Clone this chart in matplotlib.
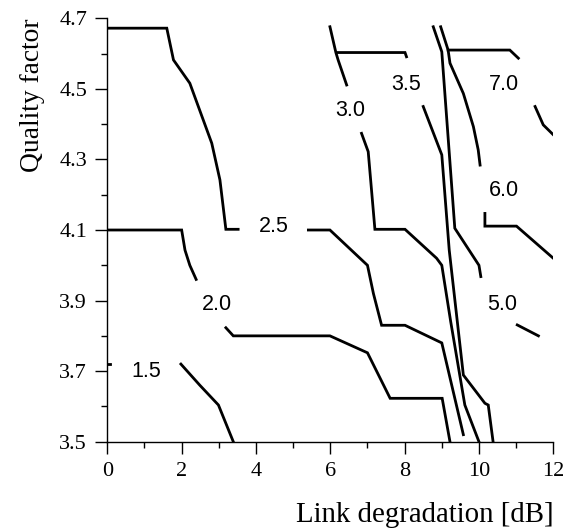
import matplotlib.pyplot as plt
from matplotlib.ticker import MultipleLocator

# contour pieces, (x = link degradation dB, y = quality factor)
# each level is split where its label sits
c15_x = [[0.0, 0.08], [1.98, 2.49, 2.99, 3.39]]
c15_y = [[3.72, 3.72], [3.72, 3.66, 3.604, 3.5]]

c20_x = [[0.0, 2.0, 2.09, 2.22, 2.39], [3.19, 3.39, 5.99, 7.0, 7.61, 9.01, 9.22]]
c20_y = [[4.1, 4.1, 4.043, 4.0, 3.96], [3.823, 3.80, 3.80, 3.752, 3.623, 3.623, 3.5]]

c25_x = [[0.0, 1.60, 1.78, 2.22, 2.81, 3.03, 3.19, 3.52],
         [5.41, 5.99, 7.0, 7.16, 7.38, 8.01, 9.0, 9.58]]
c25_y = [[4.672, 4.672, 4.582, 4.516, 4.346, 4.242, 4.102, 4.102],
         [4.1, 4.1, 4.0, 3.92, 3.83, 3.83, 3.78, 3.52]]

c30_x = [[5.99, 6.15, 6.21, 6.44],
         [6.84, 7.02, 7.20, 8.01, 8.86, 9.0, 9.24, 9.62, 10.0]]
c30_y = [[4.676, 4.603, 4.582, 4.511],
         [4.374, 4.322, 4.102, 4.102, 4.02, 4.0, 3.84, 3.604, 3.5]]

c35_x = [[6.17, 8.01, 8.05], [8.5, 9.0, 9.2, 9.58, 10.16, 10.25, 10.38]]
c35_y = [[4.603, 4.603, 4.591], [4.45, 4.313, 4.043, 3.689, 3.609, 3.604, 3.5]]

c50_x = [[8.77, 9.0, 9.35, 10.0, 10.05], [11.03, 11.6]]
c50_y = [[4.676, 4.605, 4.105, 4.0, 3.968], [3.831, 3.80]]

c60_x = [[8.97, 9.17, 9.22, 9.58, 9.85, 9.98, 10.03], [10.16, 10.16, 11.01, 12.0]]
c60_y = [[4.676, 4.61, 4.573, 4.487, 4.393, 4.327, 4.284], [4.147, 4.111, 4.111, 4.02]]

c70_x = [[9.17, 10.83, 11.06], [11.51, 11.73, 12.0]]
c70_y = [[4.61, 4.61, 4.587], [4.45, 4.398, 4.37]]

labels = ["1.5", "2.0", "2.5", "3.0", "3.5", "5.0", "6.0", "7.0"]
label_x = [1.06, 2.96, 4.48, 6.54, 8.04, 10.63, 10.67, 10.67]
label_y = [3.706, 3.895, 4.117, 4.445, 4.52, 3.897, 4.218, 4.52]

all_x = [c15_x, c20_x, c25_x, c30_x, c35_x, c50_x, c60_x, c70_x]
all_y = [c15_y, c20_y, c25_y, c30_y, c35_y, c50_y, c60_y, c70_y]

serif = "Liberation Serif"
sans = "Liberation Sans"

fig = plt.figure(figsize=(5.73, 5.29), dpi=100)
ax = fig.add_axes([0.1873, 0.165, 0.7783, 0.8004])

for xs, ys in zip(all_x, all_y):
    for px, py in zip(xs, ys):
        ax.plot(px, py, color="black", lw=2.0, solid_joinstyle="miter")

for t, lx, ly in zip(labels, label_x, label_y):
    ax.text(lx, ly, t, ha="center", va="center_baseline", fontsize=15.5, family=sans)

ax.set_xlim(0, 12)
ax.set_ylim(3.5, 4.7)
ax.spines["top"].set_visible(False)
ax.spines["right"].set_visible(False)
for s in ["left", "bottom"]:
    ax.spines[s].set_linewidth(1.0)

ax.xaxis.set_major_locator(MultipleLocator(2))
ax.xaxis.set_minor_locator(MultipleLocator(1))
ax.yaxis.set_minor_locator(MultipleLocator(0.1))
ax.set_yticks([3.5, 3.7, 3.9, 4.1, 4.3, 4.5, 4.7])
ax.set_yticklabels(["3.5", "3.7", "3.9", "4.1", "4.3", "4.5", "4.7"])
ax.tick_params(which="major", direction="out", length=8.5, width=1.0, labelsize=16, pad=6)
ax.tick_params(which="minor", direction="out", length=4.5, width=1.0)
for lab in ax.get_xticklabels() + ax.get_yticklabels():
    lab.set_family(serif)

ax.set_xlabel("Link degradation [dB]", fontsize=20.8, family=serif, loc="right", labelpad=15)
ax.set_ylabel("Quality factor", fontsize=19.8, family=serif, loc="top", labelpad=10)

fig.savefig("out.png", dpi=100)
